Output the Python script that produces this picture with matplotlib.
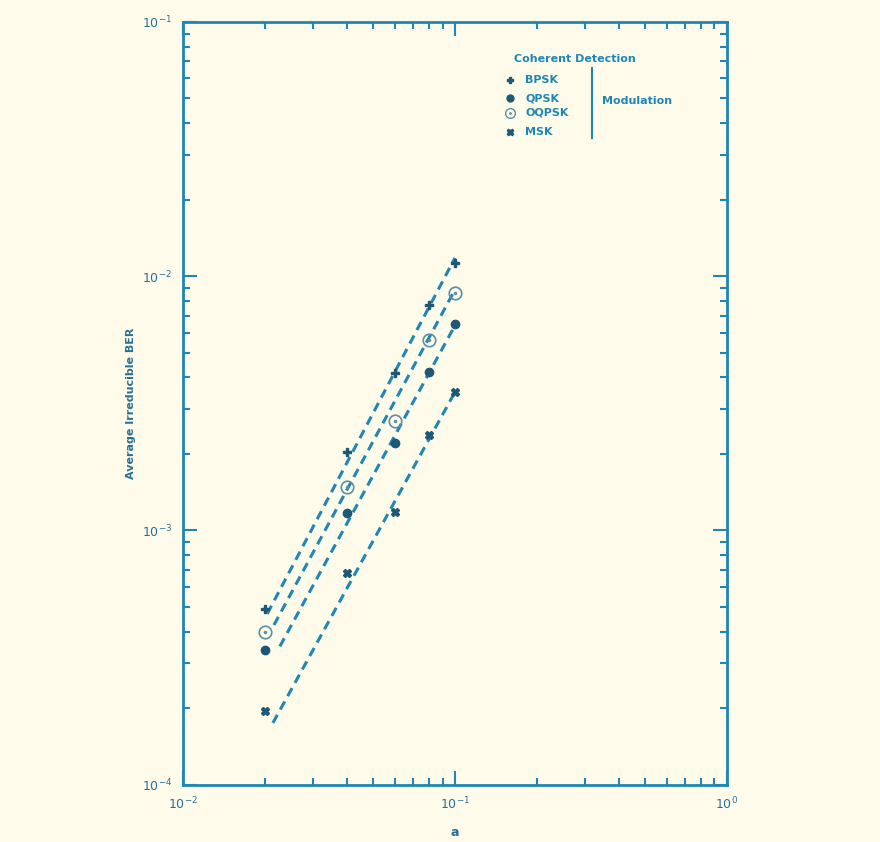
import numpy as np
import matplotlib
matplotlib.use('Agg')
import matplotlib.pyplot as plt

# values
a = [0.02, 0.04, 0.06, 0.08, 0.1]
ber_bpsk = [4.9e-4, 2.03e-3, 4.15e-3, 7.7e-3, 1.13e-2]
ber_oqpsk = [4.0e-4, 1.48e-3, 2.7e-3, 5.6e-3, 8.6e-3]
ber_qpsk = [3.4e-4, 1.17e-3, 2.2e-3, 4.2e-3, 6.5e-3]
ber_msk = [1.95e-4, 6.8e-4, 1.18e-3, 2.37e-3, 3.5e-3]
names = ['BPSK', 'QPSK', 'OQPSK', 'MSK']

# dashed fit lines (start a, start BER, end a, end BER), same order: bpsk, oqpsk, qpsk, msk
fit_a0 = [0.0204, 0.0216, 0.0227, 0.0214]
fit_b0 = [4.7e-4, 4.25e-4, 3.5e-4, 1.75e-4]
fit_a1 = [0.1, 0.098, 0.1, 0.1]
fit_b1 = [1.18e-2, 8.5e-3, 6.4e-3, 3.5e-3]

bg = '#fffbea'
ink = '#1f86b5'
dark = '#1d5877'

fig = plt.figure(figsize=(8.8, 8.42), dpi=100, facecolor=bg)
ax = fig.add_axes([0.208, 0.068, 0.618, 0.906], facecolor=bg)
ax.set_xscale('log')
ax.set_yscale('log')
ax.set_xlim(1e-2, 1)
ax.set_ylim(1e-4, 1e-1)

for x0, y0, x1, y1 in zip(fit_a0, fit_b0, fit_a1, fit_b1):
    ax.plot([x0, x1], [y0, y1], ls=(0, (3, 2)), color=ink, lw=2.2)

ax.plot(a, ber_bpsk, ls='none', marker='P', ms=6, color=dark)
ax.plot(a, ber_qpsk, ls='none', marker='o', ms=6, color=dark)
ax.plot(a, ber_oqpsk, ls='none', marker='o', ms=9, mfc='none', mec='#5a8fa8', mew=1.2)
ax.plot(a, ber_oqpsk, ls='none', marker='.', ms=3, color='#5a8fa8')
ax.plot(a, ber_msk, ls='none', marker='X', ms=6, color=dark)

# legend drawn by hand, like the original
tr = ax.transAxes
ax.text(0.72, 0.951, 'Coherent Detection', transform=tr, ha='center', va='center',
        fontsize=8, fontweight='bold', color=ink)
rows = [0.924, 0.900, 0.881, 0.856]
mk = [dict(marker='P', ms=5, color=dark), dict(marker='o', ms=5, color=dark),
      dict(marker='o', ms=7, mfc='none', mec='#5a8fa8'), dict(marker='X', ms=5, color=dark)]
for yy, nm, m in zip(rows, names, mk):
    ax.plot([0.601], [yy], transform=tr, ls='none', **m)
    ax.text(0.629, yy, nm, transform=tr, va='center', fontsize=8, fontweight='bold', color=ink)
ax.plot([0.601], [rows[2]], transform=tr, ls='none', marker='.', ms=2, color='#5a8fa8')
ax.plot([0.752, 0.752], [0.940, 0.848], transform=tr, color=ink, lw=1.5)
ax.text(0.770, 0.896, 'Modulation', transform=tr, va='center', fontsize=8,
        fontweight='bold', color=ink)

for s in ax.spines.values():
    s.set_color(ink)
    s.set_linewidth(2)
ax.tick_params(which='both', direction='in', top=True, right=True, colors=ink,
               labelcolor='#2a6f93', labelsize=9, width=1.5)
ax.tick_params(which='major', length=10, pad=8)
ax.tick_params(which='minor', length=5)

ax.set_xlabel('a', fontsize=9, fontweight='bold', color='#2a6f93', labelpad=10)
ax.set_ylabel('Average Irreducible BER', fontsize=8, fontweight='bold', color='#2a6f93',
              labelpad=4)

fig.savefig('out.png', dpi=100, facecolor=bg)
